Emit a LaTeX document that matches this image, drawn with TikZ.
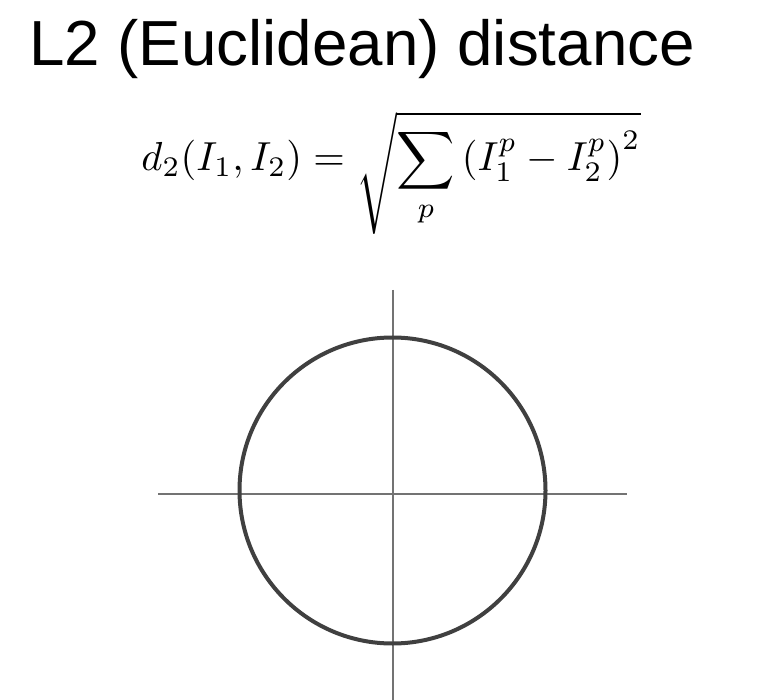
\documentclass[tikz,border=0pt]{standalone}
\usepackage{fontspec}
\newfontfamily\titlefont{Liberation Sans}
\usepackage{amsmath}
\tikzset{
  axisline/.style={draw=black!55, line width=1.6pt},
  ringline/.style={draw=black!75, line width=4pt},
}
\begin{document}
\begin{tikzpicture}[x=1pt,y=-1pt]
\useasboundingbox[fill=white] (0,0) rectangle (768,700);
\node[anchor=base west, inner sep=0pt, font=\titlefont\fontsize{63.7}{70}\selectfont] (title) at (29,66) {L2 (Euclidean) distance};
\node[inner sep=0pt] (formula) at (391,173) {\scalebox{4.05}{$\displaystyle d_2(I_1,I_2)=\sqrt{\sum_p\left(I_1^p-I_2^p\right)^2}$}};
\draw[axisline] (393,290) -- (393,700);
\draw[axisline] (158,494) -- (627,494);
\draw[ringline] (392.5,490.5) circle[radius=153];
\end{tikzpicture}
\end{document}
